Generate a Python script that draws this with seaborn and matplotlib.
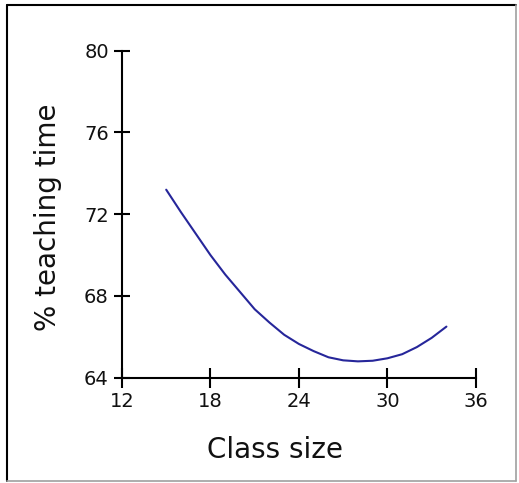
import matplotlib
matplotlib.use("Agg")
import matplotlib.pyplot as plt
import seaborn as sns
import pandas as pd
from matplotlib.lines import Line2D

# Data
class_size = [15, 16, 17, 18, 19, 20, 21, 22, 23, 24, 25, 26, 27, 28, 29, 30, 31, 32, 33, 34]
teaching_time = [73.2, 72.1, 71.05, 70.0, 69.05, 68.2, 67.35, 66.7, 66.1, 65.65,
                 65.3, 65.0, 64.85, 64.8, 64.83, 64.95, 65.15, 65.5, 65.95, 66.5]
x_ticks = [12, 18, 24, 30, 36]
y_ticks = [64, 68, 72, 76, 80]

df = pd.DataFrame({"Class size": class_size, "% teaching time": teaching_time})

sns.set_style("white")
plt.rcParams['font.family'] = ['DejaVu Sans']

fig = plt.figure(figsize=(5.19, 4.83), dpi=100)
ax = fig.add_axes([0.235, 0.218, 0.682, 0.677])

sns.lineplot(data=df, x="Class size", y="% teaching time", ax=ax,
             color="#26269a", linewidth=1.5)

ax.set_xlim(12, 36)
ax.set_ylim(64, 80)
ax.set_xticks(x_ticks)
ax.set_yticks(y_ticks)
ax.set_xticklabels([str(v) for v in x_ticks])
ax.set_yticklabels([str(v) for v in y_ticks])

for side in ["top", "right"]:
    ax.spines[side].set_visible(False)
for side in ["left", "bottom"]:
    ax.spines[side].set_visible(True)
    ax.spines[side].set_color("black")
    ax.spines[side].set_linewidth(1.5)

ax.tick_params(axis="both", bottom=True, left=True, direction="inout", width=1.5,
               color="black", labelsize=14, labelcolor="#111111")
ax.tick_params(axis="y", length=11, pad=4)
ax.tick_params(axis="x", length=14, pad=3)

ax.set_xlabel("Class size", fontsize=20, color="#111111")
ax.set_ylabel("% teaching time", fontsize=20, color="#111111")
ax.xaxis.set_label_coords(0.432, -0.221)
ax.yaxis.set_label_coords(-0.21, 0.492)
ax.xaxis.label.set_verticalalignment("center")
ax.yaxis.label.set_verticalalignment("center")

# window-like frame around the figure
W, H = 519, 483
def fx(px): return px / W
def fy(py): return 1 - py / H
fig.add_artist(Line2D([fx(7), fx(516)], [fy(5), fy(5)], color="black", lw=1.5))
fig.add_artist(Line2D([fx(7), fx(7)], [fy(5), fy(481)], color="black", lw=1.5))
fig.add_artist(Line2D([fx(516), fx(516)], [fy(5), fy(481)], color="#a0a0a0", lw=1.2))
fig.add_artist(Line2D([fx(7), fx(516)], [fy(481), fy(481)], color="#a0a0a0", lw=1.2))

fig.savefig("out.png", dpi=100, facecolor="white")
